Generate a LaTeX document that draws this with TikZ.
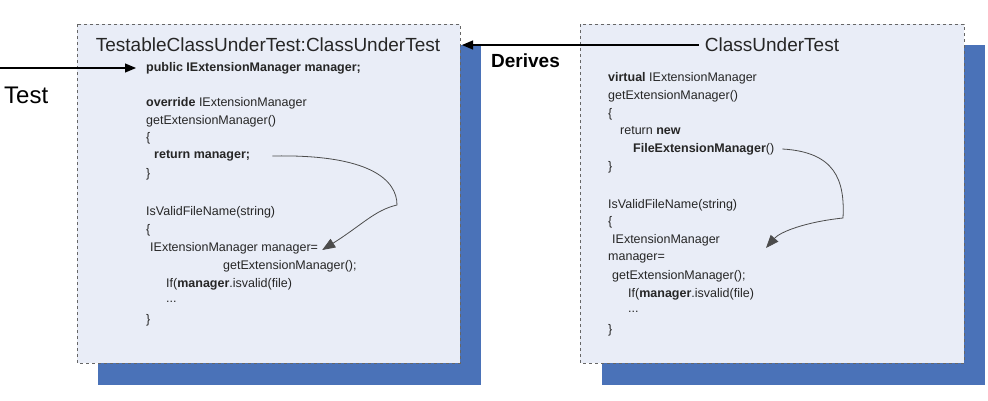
\documentclass[tikz,border=0pt]{standalone}
\usepackage{fontspec}
\setmainfont{Liberation Sans}
\usetikzlibrary{arrows.meta}
\definecolor{boxfill}{HTML}{E9EDF7}
\definecolor{shadowc}{HTML}{4A72B8}
\tikzset{
  box/.style={draw=gray!80!black,dashed,fill=boxfill,line width=0.8pt},
  shadowbox/.style={fill=shadowc,draw=none},
  code/.style={anchor=west,inner sep=0pt,font=\fontsize{12.5}{14}\selectfont,text=black!85},
  title/.style={anchor=center,inner sep=0pt,font=\fontsize{19}{22}\selectfont,text=black!85},
  conn/.style={line width=1.1pt,-{Triangle[length=11pt,width=9pt]}},
  flow/.style={line width=0.8pt,draw=black!70,-{Triangle[length=13pt,width=10pt]}}
}
\begin{document}
\begin{tikzpicture}[x=1pt,y=-1pt]
\useasboundingbox (0,0) rectangle (988,400);
% boxes
\fill[shadowbox] (98,45) rectangle (481,385);
\path[box] (77,24) rectangle (460,363);
\fill[shadowbox] (602,45) rectangle (985,385);
\path[box] (580,24) rectangle (964,363);
% titles
\node[title] (lt) at (268,45) {TestableClassUnderTest:ClassUnderTest};
\node[title] (rt) at (772,45) {ClassUnderTest};
\node[anchor=west,inner sep=0pt,font=\bfseries\fontsize{19}{22}\selectfont] (der) at (491,61) {Derives};
\node[anchor=west,inner sep=0pt,font=\fontsize{24}{28}\selectfont] (test) at (4,95) {Test};
% left code
\node[code] (l1) at (146,68) {\textbf{public IExtensionManager manager;}};
\node[code] (l2) at (146,103) {\textbf{override} IExtensionManager};
\node[code] (l3) at (146,121) {getExtensionManager()};
\node[code] (l4) at (146,138) {\{};
\node[code] (l5) at (154,156) {\textbf{return manager;}};
\node[code] (l6) at (146,174) {\}};
\node[code] (l7) at (146,212) {IsValidFileName(string)};
\node[code] (l8) at (146,230) {\{};
\node[code] (l9) at (150,248) {IExtensionManager manager=};
\node[code] (l10) at (223,266) {getExtensionManager();};
\node[code] (l11) at (166,284) {If(\textbf{manager}.isvalid(file)};
\node[code] (l12) at (166,302) {...};
\node[code] (l13) at (146,320) {\}};
% right code
\node[code] (r1) at (608,78) {\textbf{virtual} IExtensionManager};
\node[code] (r2) at (608,96) {getExtensionManager()};
\node[code] (r3) at (608,114) {\{};
\node[code] (r4) at (620,131) {return \textbf{new}};
\node[code] (r5) at (633,149) {\textbf{FileExtensionManager}()};
\node[code] (r6) at (608,167) {\}};
\node[code] (r7) at (608,205) {IsValidFileName(string)};
\node[code] (r8) at (608,222) {\{};
\node[code] (r9) at (612,240) {IExtensionManager};
\node[code] (r10) at (608,258) {manager=};
\node[code] (r11) at (612,276) {getExtensionManager();};
\node[code] (r12) at (628,294) {If(\textbf{manager}.isvalid(file)};
\node[code] (r13) at (628,312) {...};
\node[code] (r14) at (608,330) {\}};
% connectors
\coordinate (tstart) at (0,68);
\draw[conn] (tstart) -- ([xshift=-10pt]l1.west);
\draw[conn] (rt.west) ++(-6,0) coordinate (rs) -- (lt.east -| 462,0);
\coordinate (lm) at (397,205);
\draw[flow] ([xshift=22pt]l5.east) .. controls (370,154) and (397,180) .. (lm)
  .. controls (375,210) and (362,225) .. ([xshift=4pt,yshift=-2pt]l9.east);
\coordinate (rm) at (843,218);
\draw[flow] ([xshift=8pt]r5.east) .. controls (835,152) and (845,180) .. (rm)
  .. controls (805,222) and (780,232) .. (766,248);
\end{tikzpicture}
\end{document}
